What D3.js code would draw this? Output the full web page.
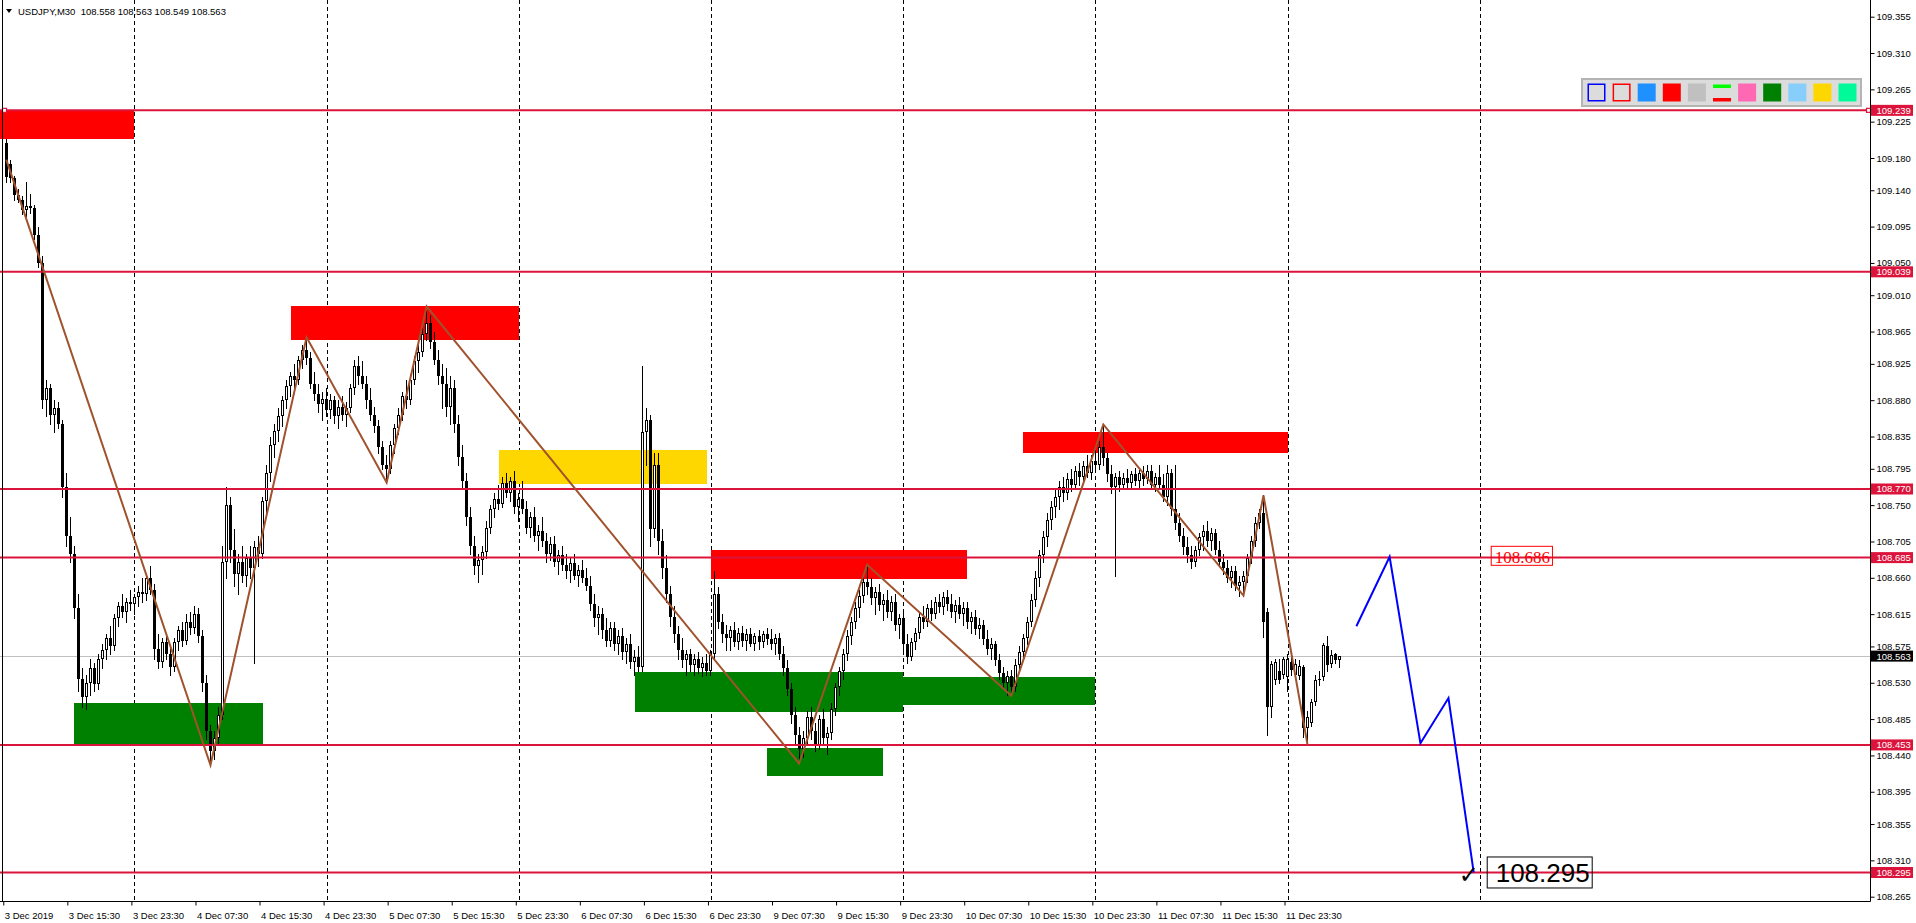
<!DOCTYPE html>
<html><head><meta charset="utf-8">
<script src="https://cdn.jsdelivr.net/npm/d3@7"></script>
<style>
html,body{margin:0;padding:0;background:#fff;overflow:hidden}
svg{display:block}
text{font-family:"Liberation Sans",Arial,sans-serif}
</style></head><body>
<svg id="c" width="1916" height="923"></svg>
<script>
const chartTitle = "USDJPY,M30";
const lastOHLC = [108.558,108.563,108.549,108.563];

// [open, high, low, close] per M30 bar, first bar = 3 Dec 07:30
const candles = [
[109.198,109.203,109.150,109.157],[109.172,109.178,109.150,109.155],[109.155,109.158,109.128,109.134],[109.134,109.142,109.125,109.128],
[109.128,109.133,109.110,109.115],[109.115,109.150,109.108,109.120],[109.120,109.135,109.112,109.118],[109.118,109.122,109.080,109.085],
[109.085,109.095,109.045,109.050],[109.050,109.058,108.870,108.880],[108.880,108.905,108.860,108.895],[108.895,108.900,108.850,108.862],
[108.862,108.880,108.840,108.870],[108.870,108.878,108.845,108.850],[108.850,108.856,108.760,108.772],[108.772,108.790,108.700,108.712],
[108.712,108.735,108.680,108.690],[108.690,108.700,108.610,108.622],[108.622,108.640,108.520,108.535],[108.535,108.548,108.500,108.512],
[108.512,108.540,108.498,108.530],[108.530,108.560,108.515,108.548],[108.548,108.555,108.520,108.528],[108.528,108.565,108.522,108.560],
[108.560,108.578,108.548,108.570],[108.570,108.590,108.560,108.585],[108.585,108.600,108.565,108.575],[108.575,108.615,108.570,108.610],
[108.610,108.630,108.600,108.625],[108.625,108.640,108.612,108.618],[108.618,108.635,108.605,108.630],[108.630,108.645,108.620,108.628],
[108.628,108.640,108.615,108.636],[108.636,108.650,108.625,108.642],[108.642,108.660,108.630,108.640],[108.640,108.665,108.632,108.660],
[108.660,108.674,108.640,108.645],[108.645,108.652,108.560,108.572],[108.572,108.590,108.548,108.556],[108.556,108.585,108.550,108.580],
[108.580,108.592,108.560,108.565],[108.565,108.575,108.540,108.550],[108.550,108.585,108.545,108.580],[108.580,108.600,108.570,108.595],
[108.595,108.605,108.575,108.582],[108.582,108.615,108.578,108.605],[108.605,108.618,108.590,108.598],[108.598,108.625,108.592,108.615],
[108.615,108.622,108.580,108.588],[108.588,108.595,108.520,108.530],[108.530,108.540,108.460,108.470],[108.470,108.478,108.428,108.445],
[108.445,108.470,108.436,108.462],[108.462,108.500,108.455,108.490],[108.490,108.700,108.485,108.680],[108.680,108.772,108.660,108.750],
[108.750,108.760,108.680,108.695],[108.695,108.720,108.650,108.665],[108.665,108.690,108.640,108.680],[108.680,108.700,108.655,108.662],
[108.662,108.690,108.650,108.685],[108.685,108.700,108.660,108.672],[108.672,108.705,108.555,108.698],[108.698,108.712,108.675,108.690],
[108.690,108.760,108.685,108.755],[108.755,108.800,108.740,108.790],[108.790,108.835,108.780,108.825],[108.825,108.850,108.810,108.842],
[108.842,108.870,108.830,108.860],[108.860,108.885,108.848,108.880],[108.880,108.905,108.870,108.898],[108.898,108.915,108.885,108.910],
[108.910,108.925,108.895,108.905],[108.905,108.935,108.900,108.930],[108.930,108.948,108.920,108.942],[108.942,108.958,108.925,108.932],
[108.932,108.940,108.895,108.900],[108.900,108.915,108.880,108.888],[108.888,108.900,108.865,108.875],[108.875,108.890,108.855,108.882],
[108.882,108.895,108.860,108.868],[108.868,108.888,108.858,108.880],[108.880,108.885,108.852,108.860],[108.860,108.880,108.845,108.872],
[108.872,108.885,108.855,108.862],[108.862,108.878,108.848,108.870],[108.870,108.900,108.865,108.895],[108.895,108.930,108.888,108.922],
[108.922,108.935,108.900,108.910],[108.910,108.928,108.895,108.900],[108.900,108.910,108.870,108.880],[108.880,108.895,108.855,108.862],
[108.862,108.872,108.840,108.848],[108.848,108.855,108.815,108.822],[108.822,108.830,108.795,108.800],[108.800,108.812,108.778,108.795],
[108.795,108.830,108.790,108.825],[108.825,108.850,108.815,108.845],[108.845,108.870,108.838,108.862],[108.862,108.890,108.855,108.885],
[108.885,108.905,108.870,108.880],[108.880,108.912,108.875,108.905],[108.905,108.935,108.900,108.928],[108.928,108.950,108.915,108.940],
[108.940,108.970,108.935,108.962],[108.962,108.996,108.955,108.975],[108.975,108.985,108.945,108.952],[108.952,108.965,108.925,108.930],
[108.930,108.942,108.900,108.910],[108.910,108.925,108.870,108.900],[108.900,108.920,108.860,108.872],[108.872,108.910,108.850,108.895],
[108.895,108.905,108.840,108.850],[108.850,108.862,108.800,108.810],[108.810,108.825,108.770,108.780],[108.780,108.790,108.725,108.735],
[108.735,108.748,108.690,108.700],[108.700,108.712,108.665,108.675],[108.675,108.690,108.655,108.682],[108.682,108.700,108.665,108.692],
[108.692,108.730,108.685,108.722],[108.722,108.750,108.715,108.745],[108.745,108.765,108.735,108.758],[108.758,108.775,108.745,108.752],
[108.752,108.785,108.748,108.778],[108.778,108.790,108.760,108.765],[108.765,108.785,108.755,108.780],[108.780,108.792,108.740,108.748],
[108.748,108.765,108.730,108.758],[108.758,108.780,108.740,108.745],[108.745,108.755,108.715,108.722],[108.722,108.742,108.710,108.735],
[108.735,108.748,108.705,108.712],[108.712,108.725,108.695,108.718],[108.718,108.735,108.700,108.705],[108.705,108.715,108.680,108.690],
[108.690,108.710,108.682,108.702],[108.702,108.712,108.675,108.680],[108.680,108.695,108.665,108.688],[108.688,108.700,108.670,108.676],
[108.676,108.690,108.660,108.668],[108.668,108.685,108.655,108.678],[108.678,108.690,108.658,108.662],[108.662,108.676,108.650,108.670],
[108.670,108.682,108.655,108.660],[108.660,108.672,108.645,108.650],[108.650,108.662,108.620,108.628],[108.628,108.640,108.600,108.610],
[108.610,108.625,108.590,108.615],[108.615,108.622,108.585,108.595],[108.595,108.610,108.575,108.582],[108.582,108.605,108.575,108.598],
[108.598,108.605,108.570,108.578],[108.578,108.595,108.565,108.588],[108.588,108.598,108.560,108.568],[108.568,108.585,108.555,108.578],
[108.578,108.590,108.548,108.556],[108.556,108.570,108.540,108.562],[108.562,108.575,108.545,108.550],[108.550,108.922,108.545,108.840],
[108.840,108.870,108.800,108.855],[108.855,108.862,108.700,108.720],[108.720,108.815,108.710,108.800],[108.800,108.815,108.690,108.705],
[108.705,108.720,108.660,108.672],[108.672,108.688,108.630,108.640],[108.640,108.650,108.600,108.612],[108.612,108.625,108.580,108.590],
[108.590,108.600,108.560,108.570],[108.570,108.585,108.550,108.558],[108.558,108.570,108.540,108.565],[108.565,108.572,108.545,108.552],
[108.552,108.565,108.540,108.560],[108.560,108.568,108.542,108.548],[108.548,108.562,108.538,108.555],[108.555,108.566,108.540,108.545],
[108.545,108.570,108.540,108.565],[108.565,108.668,108.560,108.640],[108.640,108.648,108.598,108.605],[108.605,108.615,108.580,108.590],
[108.590,108.602,108.570,108.585],[108.585,108.600,108.570,108.595],[108.595,108.605,108.575,108.580],[108.580,108.598,108.572,108.592],
[108.592,108.600,108.575,108.582],[108.582,108.596,108.570,108.590],[108.590,108.598,108.575,108.578],[108.578,108.592,108.570,108.588],
[108.588,108.595,108.572,108.580],[108.580,108.594,108.574,108.590],[108.590,108.598,108.578,108.584],[108.584,108.596,108.572,108.578],
[108.578,108.590,108.565,108.585],[108.585,108.592,108.560,108.566],[108.566,108.575,108.540,108.548],[108.548,108.558,108.515,108.522],
[108.522,108.530,108.480,108.490],[108.490,108.500,108.455,108.465],[108.465,108.475,108.430,108.448],[108.448,108.470,108.438,108.462],
[108.462,108.495,108.455,108.488],[108.488,108.500,108.460,108.470],[108.470,108.480,108.445,108.452],[108.452,108.490,108.448,108.485],
[108.485,108.498,108.455,108.462],[108.462,108.475,108.442,108.468],[108.468,108.505,108.460,108.498],[108.498,108.530,108.490,108.525],
[108.525,108.550,108.515,108.545],[108.545,108.572,108.535,108.565],[108.565,108.595,108.558,108.588],[108.588,108.612,108.578,108.605],
[108.605,108.630,108.598,108.622],[108.622,108.645,108.612,108.638],[108.638,108.662,108.630,108.655],[108.655,108.676,108.640,108.648],
[108.648,108.660,108.628,108.635],[108.635,108.648,108.615,108.642],[108.642,108.652,108.620,108.626],[108.626,108.640,108.608,108.632],
[108.632,108.645,108.612,108.618],[108.618,108.638,108.608,108.630],[108.630,108.640,108.595,108.602],[108.602,108.615,108.585,108.610],
[108.610,108.618,108.570,108.578],[108.578,108.590,108.555,108.562],[108.562,108.585,108.558,108.580],[108.580,108.598,108.572,108.592],
[108.592,108.618,108.585,108.612],[108.612,108.625,108.598,108.605],[108.605,108.628,108.600,108.622],[108.622,108.632,108.608,108.615],
[108.615,108.636,108.610,108.630],[108.630,108.640,108.618,108.624],[108.624,108.642,108.615,108.636],[108.636,108.645,108.620,108.628],
[108.628,108.640,108.612,108.618],[108.618,108.632,108.605,108.626],[108.626,108.636,108.610,108.615],[108.615,108.630,108.602,108.622],
[108.622,108.630,108.598,108.605],[108.605,108.618,108.592,108.612],[108.612,108.620,108.590,108.596],[108.596,108.610,108.585,108.602],
[108.602,108.608,108.578,108.584],[108.584,108.595,108.565,108.572],[108.572,108.585,108.560,108.578],[108.578,108.582,108.552,108.558],
[108.558,108.565,108.535,108.542],[108.542,108.550,108.522,108.530],[108.530,108.545,108.515,108.538],[108.538,108.546,108.514,108.525],
[108.525,108.560,108.520,108.552],[108.552,108.575,108.545,108.568],[108.568,108.590,108.560,108.585],[108.585,108.612,108.578,108.605],
[108.605,108.640,108.600,108.632],[108.632,108.668,108.625,108.660],[108.660,108.695,108.650,108.688],[108.688,108.718,108.680,108.710],
[108.710,108.740,108.700,108.732],[108.732,108.755,108.720,108.748],[108.748,108.770,108.735,108.760],[108.760,108.780,108.745,108.772],
[108.772,108.785,108.755,108.765],[108.765,108.790,108.758,108.782],[108.782,108.795,108.768,108.775],[108.775,108.798,108.770,108.792],
[108.792,108.802,108.775,108.785],[108.785,108.805,108.778,108.798],[108.798,108.812,108.785,108.790],[108.790,108.812,108.782,108.805],
[108.805,108.818,108.792,108.800],[108.800,108.830,108.795,108.822],[108.822,108.850,108.800,108.808],[108.808,108.815,108.780,108.788],
[108.788,108.800,108.765,108.772],[108.772,108.790,108.662,108.785],[108.785,108.792,108.768,108.775],[108.775,108.790,108.770,108.784],
[108.784,108.795,108.772,108.778],[108.778,108.792,108.770,108.788],[108.788,108.796,108.775,108.780],[108.780,108.794,108.772,108.790],
[108.790,108.798,108.775,108.782],[108.782,108.800,108.778,108.792],[108.792,108.800,108.770,108.775],[108.775,108.790,108.768,108.785],
[108.785,108.800,108.770,108.775],[108.775,108.788,108.755,108.760],[108.760,108.800,108.750,108.790],[108.790,108.795,108.738,108.745],
[108.745,108.800,108.720,108.728],[108.728,108.740,108.705,108.712],[108.712,108.722,108.690,108.698],[108.698,108.710,108.680,108.688],
[108.688,108.700,108.672,108.680],[108.680,108.700,108.675,108.695],[108.695,108.715,108.688,108.710],[108.710,108.725,108.695,108.718],
[108.718,108.730,108.700,108.705],[108.705,108.722,108.695,108.715],[108.715,108.720,108.690,108.695],[108.695,108.705,108.675,108.680],
[108.680,108.690,108.665,108.672],[108.672,108.682,108.655,108.660],[108.660,108.675,108.648,108.668],[108.668,108.675,108.645,108.650],
[108.650,108.662,108.638,108.655],[108.655,108.668,108.638,108.662],[108.662,108.690,108.655,108.685],[108.685,108.712,108.678,108.705],
[108.705,108.735,108.700,108.728],[108.728,108.745,108.722,108.740],[108.740,108.762,108.587,108.605],[108.618,108.622,108.465,108.500],
[108.500,108.557,108.487,108.553],[108.533,108.560,108.528,108.556],[108.545,108.560,108.530,108.533],[108.540,108.562,108.536,108.560],
[108.537,108.566,108.520,108.559],[108.556,108.562,108.540,108.546],[108.540,108.560,108.538,108.553],[108.538,108.558,108.535,108.551],
[108.549,108.552,108.463,108.474],[108.474,108.495,108.453,108.488],[108.480,108.510,108.476,108.506],[108.506,108.540,108.502,108.534],
[108.535,108.545,108.527,108.535],[108.537,108.579,108.533,108.577],[108.576,108.588,108.545,108.552],[108.553,108.571,108.549,108.564],
[108.566,108.567,108.555,108.558],[108.558,108.563,108.549,108.563]
];

const timeLabelBars = [0,16,32,48,64,80,96,112,128,144,160,176,192,208,224,240,256,272,288,304,320];
const timeLabelTexts = ["3 Dec 2019","3 Dec 15:30","3 Dec 23:30","4 Dec 07:30","4 Dec 15:30","4 Dec 23:30","5 Dec 07:30","5 Dec 15:30","5 Dec 23:30","6 Dec 07:30","6 Dec 15:30","6 Dec 23:30","9 Dec 07:30","9 Dec 15:30","9 Dec 23:30","10 Dec 07:30","10 Dec 15:30","10 Dec 23:30","11 Dec 07:30","11 Dec 15:30","11 Dec 23:30"];
const gridBars = [32,80,128,176,224,272,320,368];
const priceTicks = [109.355,109.310,109.265,109.225,109.180,109.140,109.095,109.050,109.010,108.965,108.925,108.880,108.835,108.795,108.750,108.705,108.660,108.615,108.575,108.530,108.485,108.440,108.395,108.355,108.310,108.265];
const levelLines = [109.239,109.039,108.770,108.685,108.453,108.295];
const currentPrice = 108.563;

// zones: [fromBar, toBar, topPrice, bottomPrice]
const zonesRed = [[-3,32,109.238,109.203],[71,128,108.997,108.955],[176,240,108.694,108.658],[254,320,108.840,108.814]];
const zonesGold = [[123,175,108.818,108.776]];
const zonesGreen = [[17,64,108.505,108.453],[157,224,108.543,108.494],[224,272,108.537,108.502],[190,219,108.449,108.414]];

// zigzag pivots [bar, price]
const zigzag = [[0,109.178],[51,108.428],[75,108.958],[95,108.778],[105,108.996],[198,108.430],[215,108.676],[251,108.514],[274,108.850],[309,108.638],[314,108.762],[325,108.453]];
// projected path [bar, price]
const projection = [[337.2,108.600],[345.5,108.686],[353.2,108.455],[360.2,108.511],[366.5,108.295]];

const noteRed = {bar:371, price:108.686, text:"108.686"};
const noteTarget = {bar:371, price:108.295, text:"108.295"};
const checkMark = {bar:366.5, price:108.295};

const paletteKinds = ["outline","outline","fill","fill","fill","bars","fill","fill","fill","fill","fill"];
const paletteColors = ["#0000FF","#FF0000","#1E90FF","#FF0000","#C0C0C0",["#00FF00","#FF0000"],"#FF69B4","#008000","#87CEFA","#FFD700","#00FA9A"];

// ---------- drawing ----------
const plotR = 1870.5, plotB = 901.5;
const svg = d3.select("#c");
const x = d3.scaleLinear().domain([32, 368]).range([134.4, 1479.7]);
const y = d3.scaleLinear().domain([109.355, 108.265]).range([16.7, 896.7]);

svg.append("defs").append("clipPath").attr("id","plot")
  .append("rect").attr("x",0).attr("y",0).attr("width",1870).attr("height",901);

const plot = svg.append("g").attr("clip-path","url(#plot)");

// grid
plot.append("g").selectAll("line").data(gridBars).join("line")
  .attr("x1",d=>Math.round(x(d))+0.5).attr("x2",d=>Math.round(x(d))+0.5)
  .attr("y1",0).attr("y2",plotB)
  .attr("stroke","#000").attr("stroke-width",1).attr("stroke-dasharray","4,3")
  .attr("shape-rendering","crispEdges");

// zones
function drawZones(data, color){
  plot.append("g").selectAll("rect").data(data).join("rect")
    .attr("x",d=>x(d[0])).attr("width",d=>x(d[1])-x(d[0]))
    .attr("y",d=>y(d[2])).attr("height",d=>y(d[3])-y(d[2]))
    .attr("fill",color).attr("shape-rendering","crispEdges");
}
drawZones(zonesRed,"#FF0000");
drawZones(zonesGold,"#FFD700");
drawZones(zonesGreen,"#008000");

// current price line
plot.append("line").attr("x1",0).attr("x2",plotR)
  .attr("y1",Math.round(y(currentPrice))+0.5).attr("y2",Math.round(y(currentPrice))+0.5)
  .attr("stroke","#C0C0C0").attr("stroke-width",1).attr("shape-rendering","crispEdges");

// candles
const cg = plot.append("g").attr("shape-rendering","crispEdges");
const bars = cg.selectAll("g").data(candles).join("g");
bars.append("rect")
  .attr("x",(d,i)=>Math.floor(x(i)))
  .attr("width",1)
  .attr("y",d=>Math.round(y(d[1])))
  .attr("height",d=>Math.max(1,Math.round(y(d[2]))-Math.round(y(d[1]))+1))
  .attr("fill","#000");
bars.each(function(d,i){
  const g = d3.select(this);
  const px = Math.floor(x(i));
  const top = Math.round(y(Math.max(d[0],d[3])));
  const bot = Math.round(y(Math.min(d[0],d[3])));
  if (d[3] > d[0] && bot - top >= 2) {
    g.append("rect").attr("x",px-0.5).attr("y",top+0.5).attr("width",2).attr("height",bot-top-1)
      .attr("fill","#fff").attr("stroke","#000").attr("stroke-width",1);
  } else {
    g.append("rect").attr("x",px-1).attr("y",top).attr("width",3).attr("height",Math.max(1,bot-top))
      .attr("fill","#000");
  }
});

// level lines
const lv = plot.append("g");
lv.selectAll("line").data(levelLines).join("line")
  .attr("x1",0).attr("x2",plotR)
  .attr("y1",d=>y(d)).attr("y2",d=>y(d))
  .attr("stroke","#DC143C").attr("stroke-width",2);
[2.5, 1866.5].forEach(ax=>{
  plot.append("rect").attr("x",ax).attr("y",y(levelLines[0])-2).attr("width",4).attr("height",4)
    .attr("fill","#fff").attr("stroke","#DC143C").attr("stroke-width",1.2);
});

// zigzag
const line = d3.line().x(d=>x(d[0])).y(d=>y(d[1]));
plot.append("path").attr("d",line(zigzag)).attr("fill","none")
  .attr("stroke","#A0522D").attr("stroke-width",2);
// projection
plot.append("path").attr("d",line(projection)).attr("fill","none")
  .attr("stroke","#0000FF").attr("stroke-width",2);

// notes
const nr = plot.append("g");
const nrText = nr.append("text").attr("x",x(noteRed.bar)+3).attr("y",y(noteRed.price)+6)
  .style("font-family","'Liberation Serif','Times New Roman',serif").style("font-size","17px")
  .attr("fill","#FF0000").text(noteRed.text);
const nb = nrText.node().getBBox();
nr.insert("rect","text").attr("x",x(noteRed.bar)-0.5).attr("y",y(noteRed.price)-10.5)
  .attr("width",nb.width+6).attr("height",19).attr("fill","none").attr("stroke","#FF0000").attr("stroke-width",1);

const nt = plot.append("g");
const ntText = nt.append("text").attr("x",x(noteTarget.bar)+4).attr("y",y(noteTarget.price)+9.5)
  .style("font-size","26px").attr("fill","#000").text(noteTarget.text);
const tb = ntText.node().getBBox();
nt.insert("rect","text").attr("x",x(noteTarget.bar)-4.5).attr("y",y(noteTarget.price)-15.5)
  .attr("width",tb.width+11).attr("height",31).attr("fill","none").attr("stroke","#000").attr("stroke-width",1);

plot.append("text").attr("x",x(checkMark.bar)-15).attr("y",y(checkMark.price)+11)
  .style("font-family","'DejaVu Sans',sans-serif").style("font-size","24px").attr("fill","#000").text("\u2713");

// frame
svg.append("line").attr("x1",2.5).attr("x2",2.5).attr("y1",0).attr("y2",plotB).attr("stroke","#000");
svg.append("line").attr("x1",0).attr("x2",plotR).attr("y1",plotB).attr("y2",plotB).attr("stroke","#000");
svg.append("line").attr("x1",plotR).attr("x2",plotR).attr("y1",0).attr("y2",plotB).attr("stroke","#000");

// right axis
const ra = svg.append("g").attr("transform",`translate(${plotR},0)`)
  .call(d3.axisRight(y).tickValues(priceTicks).tickSize(4).tickPadding(2).tickFormat(d3.format(".3f")));
ra.select(".domain").remove();
ra.selectAll("text").style("font-size","9.5px").style("font-family","'Liberation Sans',Arial,sans-serif").attr("fill","#000");
ra.selectAll("line").attr("stroke","#000");

function tag(p, bg){
  const gy = y(p);
  svg.append("rect").attr("x",plotR+0.5).attr("y",gy-5.5).attr("width",42).attr("height",11).attr("fill",bg);
  svg.append("text").attr("x",plotR+6).attr("y",gy+3.5).style("font-size","9.5px").attr("fill","#fff").text(d3.format(".3f")(p));
}
levelLines.forEach(p=>tag(p,"#DC143C"));
tag(currentPrice,"#000");

// bottom axis
const ba = svg.append("g").attr("transform",`translate(-3,${plotB})`)
  .call(d3.axisBottom(x).tickValues(timeLabelBars).tickSize(4).tickPadding(7).tickFormat((d,i)=>timeLabelTexts[i]));
ba.select(".domain").remove();
ba.selectAll("text").attr("text-anchor","start").attr("x",1).style("font-size","9.5px")
  .style("font-family","'Liberation Sans',Arial,sans-serif").attr("fill","#000");
ba.selectAll("line").attr("stroke","#000");

// title
svg.append("path").attr("d","M6,9 L12,9 L9,13 Z").attr("fill","#000");
svg.append("text").attr("x",18).attr("y",14.5).style("font-size","9.5px").style("white-space","pre").attr("fill","#000")
  .text(chartTitle + "  " + lastOHLC.map(d3.format(".3f")).join(" "));

// palette panel
const pg = svg.append("g");
pg.append("rect").attr("x",1582).attr("y",79).attr("width",279).attr("height",27)
  .attr("fill","#DCDCDC").attr("stroke","#B4B4B4").attr("stroke-width",2);
paletteKinds.forEach((k,i)=>{
  const px = 1587.5 + i*25.1, py = 83.5, s = 18;
  if (k==="outline") {
    pg.append("rect").attr("x",px+0.75).attr("y",py+0.75).attr("width",s-1.5).attr("height",s-1.5)
      .attr("fill","none").attr("stroke",paletteColors[i]).attr("stroke-width",1.5);
  } else if (k==="bars") {
    pg.append("rect").attr("x",px).attr("y",py+1).attr("width",s).attr("height",3.5).attr("fill",paletteColors[i][0]);
    pg.append("rect").attr("x",px).attr("y",py+14.5).attr("width",s).attr("height",3.5).attr("fill",paletteColors[i][1]);
  } else {
    pg.append("rect").attr("x",px).attr("y",py).attr("width",s).attr("height",s).attr("fill",paletteColors[i]);
  }
});
</script>
</body></html>
